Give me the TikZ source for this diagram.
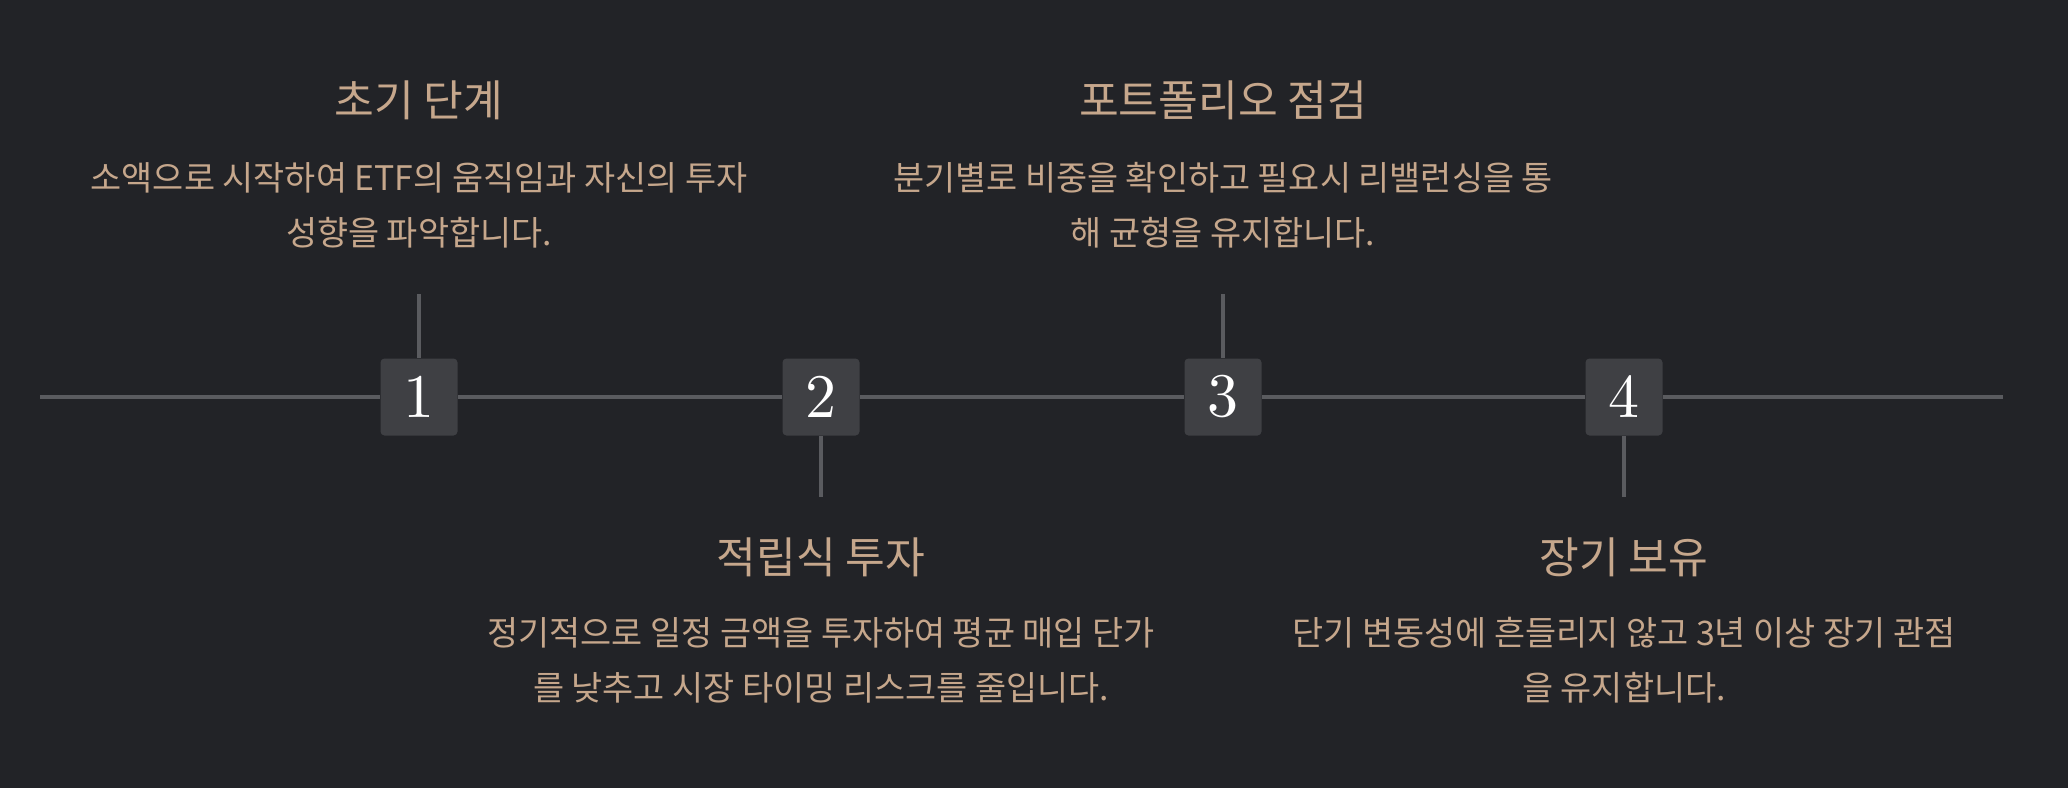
\documentclass[tikz,border=0pt]{standalone}
\usepackage{fontspec}
\newfontfamily\kr{Noto Sans CJK KR}
\newfontfamily\numfont{lmroman10-regular.otf}
\usepackage{xcolor}
\usepackage{tikz}
\usetikzlibrary{positioning}

\definecolor{bgdark}{HTML}{222327}
\definecolor{linegray}{HTML}{5A5B5F}
\definecolor{boxgray}{HTML}{3F4044}
\definecolor{sand}{HTML}{C6A78C}

\begin{document}
\begin{tikzpicture}[x=0.5pt, y=-0.5pt,
    stepbox/.style={fill=boxgray, rounded corners=2pt, minimum size=38.5pt, inner sep=0pt,
      text=white, font=\numfont\fontsize{31}{31}\selectfont},
    title/.style={text=sand, font=\kr\fontsize{21.6}{24}\selectfont},
    desc/.style={text=sand, align=center, font=\kr\fontsize{16.9}{27.5}\selectfont},
    tick/.style={draw=linegray, line width=2pt}]
        \fill[bgdark] (0,0) rectangle (2068,788);

        \coordinate (tl) at (40,397);
        \coordinate (tr) at (2003,397);
        \node[stepbox] (s1) at (419,397) {1};
        \node[stepbox] (s2) at (821,397) {2};
        \node[stepbox] (s3) at (1223,397) {3};
        \node[stepbox] (s4) at (1624,397) {4};

        \coordinate (u1) at (419,294);
        \coordinate (u3) at (1223,294);
        \coordinate (d2) at (821,497);
        \coordinate (d4) at (1624,497);

        \node[title] (t1) at (419,100) {초기 단계};
        \node[desc] (x1) at (419,205) {소액으로 시작하여 ETF의 움직임과 자신의 투자\\성향을 파악합니다.};
        \node[title] (t2) at (821,557) {적립식 투자};
        \node[desc] (x2) at (821,660) {정기적으로 일정 금액을 투자하여 평균 매입 단가\\를 낮추고 시장 타이밍 리스크를 줄입니다.};
        \node[title] (t3) at (1223,100) {포트폴리오 점검};
        \node[desc] (x3) at (1223,205) {분기별로 비중을 확인하고 필요시 리밸런싱을 통\\해 균형을 유지합니다.};
        \node[title] (t4) at (1624,557) {장기 보유};
        \node[desc] (x4) at (1624,660) {단기 변동성에 흔들리지 않고 3년 이상 장기 관점\\을 유지합니다.};

        \foreach \a/\b in {tl/s1, s1/s2, s2/s3, s3/s4, s4/tr}
          \draw[tick] (\a) -- (\b);
        \foreach \a/\b in {s1/u1, s3/u3, s2/d2, s4/d4}
          \draw[tick] (\a) -- (\b);
      \end{tikzpicture}
\end{document}
